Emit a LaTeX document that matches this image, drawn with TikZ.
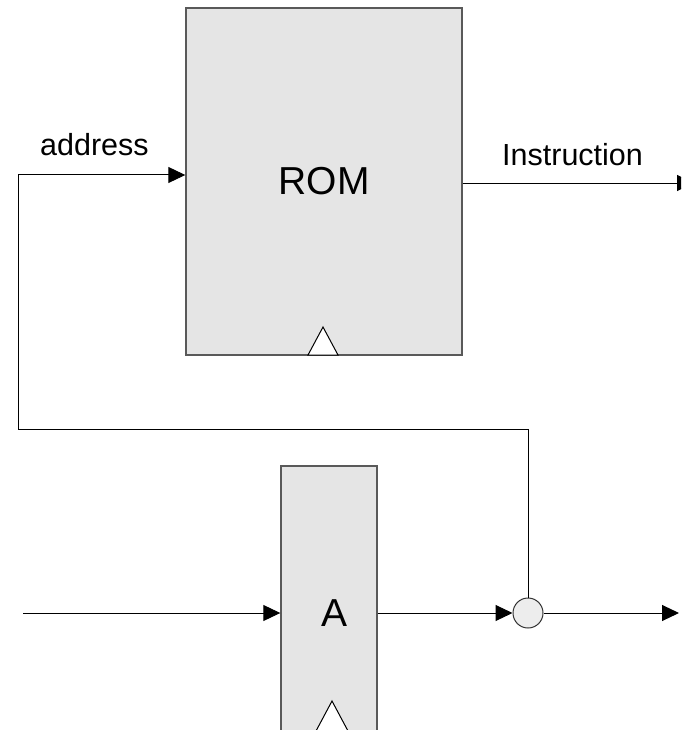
\documentclass[tikz,border=0pt]{standalone}
\usepackage{fontspec}
\setmainfont{Liberation Sans}
\usetikzlibrary{arrows.meta}
\begin{document}
\begin{tikzpicture}[x=1pt,y=-1pt,
  blk/.style={draw=black!65, line width=1.4pt, fill=black!10, inner sep=0pt},
  wire/.style={line width=1pt, black},
  arr/.style={wire, -{Triangle[length=17pt,width=16pt]}},
  clk/.style={draw=black, line width=1pt, fill=white, line join=miter},
  lbl/.style={font=\fontsize{30.5}{32}\selectfont, inner sep=0pt},
  big/.style={font=\fontsize{39}{41}\selectfont, inner sep=0pt}]
\clip (0,0) rectangle (681,730);
% memory and register blocks
\node[blk, minimum width=276pt, minimum height=347pt, big] (rom) at (324,181.5) {ROM};
\node[blk, minimum width=96pt, minimum height=294pt] (a) at (329,613) {};
\node[big] (alabel) at (335,613) {A};
% clock inputs
\draw[clk] (308,355) -- (323,327) -- (338,355) -- cycle;
\draw[clk] (316,731) -- (332,701) -- (348,731);
% junction
\node[circle, draw=black!80, fill=black!7, minimum size=30pt, inner sep=0pt, line width=1pt] (j) at (528,613) {};
% wire end points
\coordinate (inL) at (23,613);
\coordinate (outR) at (679,613);
\coordinate (fbR) at (528,429);
\coordinate (fbL) at (18,429);
\coordinate (addr) at (18,175);
\coordinate (instr) at (694,183);
% wires
\draw[arr] (inL) -- (a.west);
\draw[arr] (a.east) -- (j.west);
\draw[arr] (j.east) -- (outR);
\draw[arr] (j.north) -- (fbR) -- (fbL) -- (addr) -- (rom.west |- addr);
\draw[arr] (rom.east |- instr) -- (instr);
% labels
\node[lbl, anchor=base west] (addrlbl) at (40,156) {address};
\node[lbl, anchor=base west] (instrlbl) at (502,165) {Instruction};
\end{tikzpicture}
\end{document}
